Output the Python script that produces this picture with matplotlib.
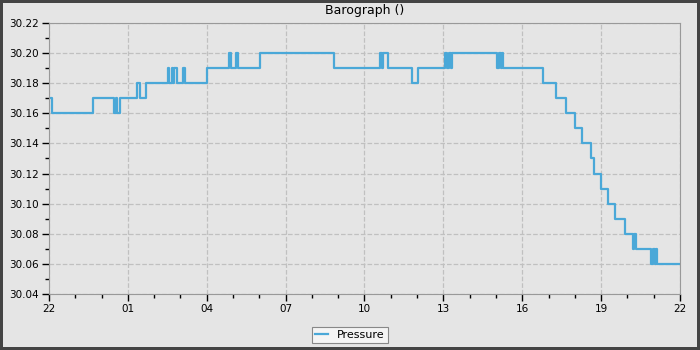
import matplotlib
matplotlib.use("Agg")
import matplotlib.pyplot as plt
import matplotlib.dates as mdates
import matplotlib.ticker as mticker
import numpy as np
from datetime import datetime, timedelta

# --- data: change points (hours after 22:00) and pressure (inHg) ---
hours = [0.00, 0.12, 1.69, 2.47, 2.54, 2.58, 2.70, 3.36, 3.45, 3.69,
         4.54, 4.58, 4.66, 4.70, 4.76, 4.88, 5.11, 5.18, 6.00, 6.86,
         6.92, 7.11, 7.18, 8.03, 10.84, 12.59, 12.66, 12.72, 12.88, 13.81,
         14.04, 15.06, 15.14, 15.22, 15.28, 15.32, 17.05, 17.12, 17.20, 17.24,
         17.28, 18.80, 19.27, 19.67, 20.00, 20.28, 20.60, 20.72, 21.00, 21.27,
         21.54, 21.91, 22.22, 22.27, 22.32, 22.91, 22.97, 23.05, 23.10, 23.14,
         24.00]
pressure = [30.17, 30.16, 30.17, 30.16, 30.17, 30.16, 30.17, 30.18, 30.17, 30.18,
            30.19, 30.18, 30.19, 30.18, 30.19, 30.18, 30.19, 30.18, 30.19, 30.20,
            30.19, 30.20, 30.19, 30.20, 30.19, 30.20, 30.19, 30.20, 30.19, 30.18,
            30.19, 30.20, 30.19, 30.20, 30.19, 30.20, 30.19, 30.20, 30.19, 30.20,
            30.19, 30.18, 30.17, 30.16, 30.15, 30.14, 30.13, 30.12, 30.11, 30.10,
            30.09, 30.08, 30.07, 30.08, 30.07, 30.06, 30.07, 30.06, 30.07, 30.06,
            30.06]

start = datetime(2024, 1, 1, 22, 0)
times = [start + timedelta(hours=h) for h in hours]

bg = '#e5e5e5'
fig = plt.figure(figsize=(7, 3.5), dpi=100, facecolor=bg)
fig.patch.set_edgecolor('#444444')
fig.patch.set_linewidth(4)
ax = fig.add_axes([0.07, 0.16, 0.9014, 0.7743], facecolor=bg)

ax.plot(times, pressure, color='#4aa8d8', lw=1.6, drawstyle='steps-post', label='Pressure')

ax.set_xlim(start, start + timedelta(hours=24))
ax.set_ylim(30.04, 30.22)
ax.xaxis.set_major_locator(mdates.HourLocator(byhour=[1, 4, 7, 10, 13, 16, 19, 22]))
ax.xaxis.set_minor_locator(mdates.HourLocator())
ax.xaxis.set_major_formatter(mdates.DateFormatter('%H'))
ax.yaxis.set_major_locator(mticker.MultipleLocator(0.02))
ax.yaxis.set_minor_locator(mticker.MultipleLocator(0.01))
ax.yaxis.set_major_formatter(mticker.FormatStrFormatter('%.2f'))

ax.tick_params(which='major', direction='out', length=5, width=1, labelsize=7.5, pad=2)
ax.tick_params(which='minor', direction='out', length=3, width=1)
for s in ax.spines.values():
    s.set_color('#999999')
ax.grid(True, which='major', linestyle='--', color='#c0c0c0', lw=0.9)
ax.set_axisbelow(True)

ax.set_title('Barograph ()', fontsize=9, pad=6.5)

leg = fig.legend(loc='lower center', bbox_to_anchor=(0.5, 0.003), fontsize=8,
                 fancybox=False, edgecolor='#888888', facecolor='#f4f4f4', framealpha=1,
                 handlelength=1.2, borderpad=0.3)
leg.get_frame().set_linewidth(0.8)

fig.savefig('out.png', dpi=100, facecolor=fig.get_facecolor(), edgecolor=fig.get_edgecolor())
